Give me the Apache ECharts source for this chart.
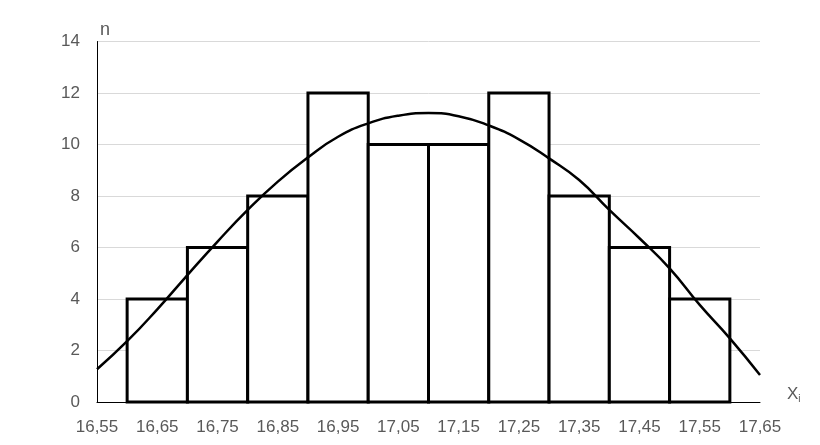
<!DOCTYPE html>
<html>
<head>
<meta charset="utf-8">
<script src="https://cdn.jsdelivr.net/npm/echarts@6/dist/echarts.min.js"></script>
<style>
html, body { margin: 0; padding: 0; background: #fff; }
#main { width: 820px; height: 445px; }
</style>
</head>
<body>
<div id="main"></div>
<script>
// histogram bins
var binStart = [16.6, 16.7, 16.8, 16.9, 17.0, 17.1, 17.2, 17.3, 17.4, 17.5];
var binEnd = [16.7, 16.8, 16.9, 17.0, 17.1, 17.2, 17.3, 17.4, 17.5, 17.6];
var counts = [4, 6, 8, 12, 10, 10, 12, 8, 6, 4];

// fitted curve
var curveX = [16.55, 16.60, 16.65, 16.70, 16.75, 16.80, 16.85, 16.90, 16.95, 17.00, 17.05, 17.10,
	17.15, 17.20, 17.25, 17.30, 17.35, 17.40, 17.45, 17.50, 17.55, 17.60, 17.65];
var curveY = [1.27, 2.36, 3.6, 4.93, 6.23, 7.46, 8.56, 9.5, 10.3, 10.82, 11.12, 11.22,
	11.1, 10.74, 10.2, 9.46, 8.62, 7.46, 6.36, 5.19, 3.77, 2.47, 1.05];

var yTicks = { min: 0, max: 14, step: 2 };
var xTicks = { min: 16.55, max: 17.65, step: 0.1 };

var myChart = echarts.init(document.getElementById('main'));

var barData = [];
for (var i = 0; i < counts.length; i++) {
	barData.push([binStart[i], binEnd[i], counts[i]]);
}
var lineData = [];
for (var j = 0; j < curveX.length; j++) {
	lineData.push([curveX[j], curveY[j]]);
}

function renderBar(params, api) {
	var p0 = api.coord([api.value(0), api.value(2)]);
	var p1 = api.coord([api.value(1), 0]);
	return {
		type: 'rect',
		shape: { x: p0[0], y: p0[1], width: p1[0] - p0[0], height: p1[1] - p0[1] },
		style: { fill: '#fff', stroke: '#000', lineWidth: 3 }
	};
}

var fontName = 'Liberation Sans, Arial, sans-serif';

var option = {
	animation: false,
	backgroundColor: '#fff',
	grid: { left: 97, right: 60, top: 41.5, bottom: 43 },
	xAxis: {
		type: 'value',
		min: xTicks.min,
		max: xTicks.max,
		interval: xTicks.step,
		name: '{a|X}{b|i}',
		nameLocation: 'end',
		nameGap: 27,
		nameTextStyle: {
			rich: {
				a: { color: '#595959', fontSize: 17, lineHeight: 20, verticalAlign: 'middle', fontFamily: fontName },
				b: { color: '#595959', fontSize: 10, lineHeight: 10, verticalAlign: 'bottom', fontFamily: fontName }
			},
			verticalAlign: 'middle',
			padding: [0, 0, 16, 0]
		},
		axisLine: { show: true, onZero: false, lineStyle: { color: '#000', width: 1 } },
		axisTick: { show: false },
		splitLine: { show: false },
		axisLabel: {
			margin: 17,
			color: '#595959',
			fontSize: 17,
			fontFamily: fontName,
			showMinLabel: true,
			showMaxLabel: true,
			formatter: function (v) { return v.toFixed(2).replace('.', ','); }
		}
	},
	yAxis: {
		type: 'value',
		min: yTicks.min,
		max: yTicks.max,
		interval: yTicks.step,
		name: 'n',
		nameLocation: 'end',
		nameGap: 2,
		nameTextStyle: { color: '#595959', fontSize: 18, align: 'left', padding: [0, 0, 0, 3], fontFamily: fontName },
		axisLine: { show: true, lineStyle: { color: '#000', width: 1 } },
		axisTick: { show: false },
		splitLine: { show: true, lineStyle: { color: '#d9d9d9', width: 1 } },
		axisLabel: {
			margin: 17,
			color: '#595959',
			fontSize: 17,
			fontFamily: fontName
		}
	},
	series: [
		{
			type: 'custom',
			renderItem: renderBar,
			encode: { x: [0, 1], y: 2 },
			data: barData,
			z: 2
		},
		{
			type: 'line',
			smooth: true,
			symbol: 'none',
			lineStyle: { color: '#000', width: 2.5 },
			data: lineData,
			z: 3
		}
	]
};
myChart.setOption(option);
</script>
</body>
</html>
